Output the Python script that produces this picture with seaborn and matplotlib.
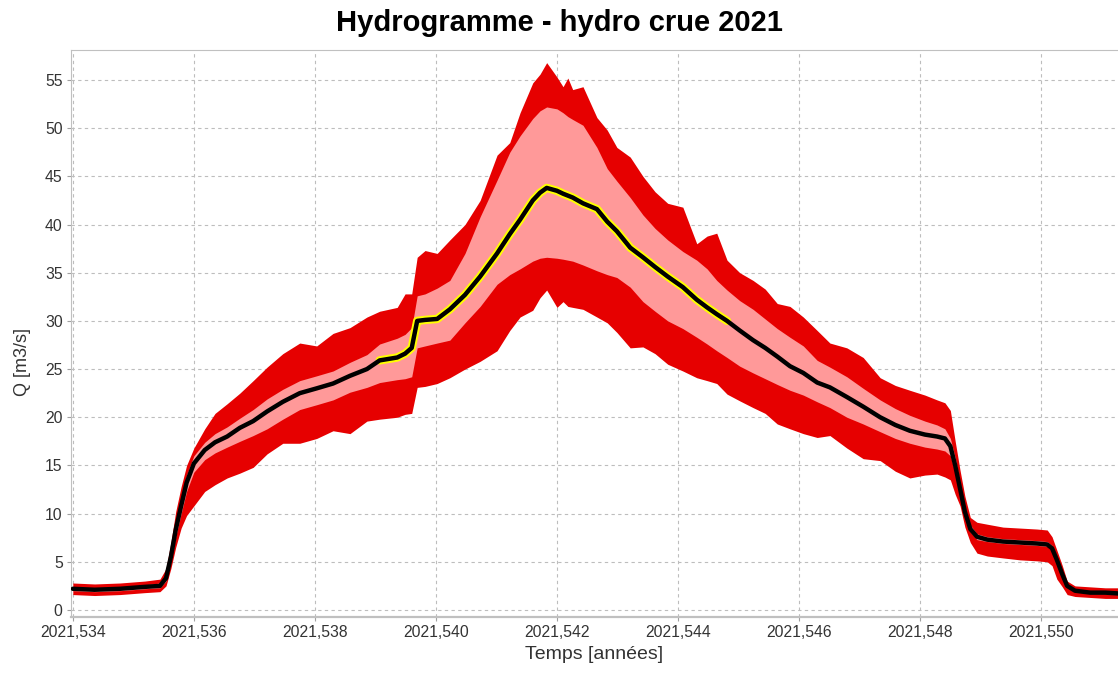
import pandas as pd
import numpy as np
import matplotlib
matplotlib.use("Agg")
import matplotlib.pyplot as plt
from matplotlib.ticker import FuncFormatter, MultipleLocator
import seaborn as sns

# time in years
temps = [2021.53400, 2021.53436, 2021.53478, 2021.53519, 2021.53544, 2021.53554, 2021.53562,
         2021.53570, 2021.53579, 2021.53588, 2021.53600, 2021.53618, 2021.53635, 2021.53655,
         2021.53676, 2021.53698, 2021.53721, 2021.53747, 2021.53775, 2021.53803, 2021.53830,
         2021.53858, 2021.53886, 2021.53907, 2021.53936, 2021.53949, 2021.53960, 2021.53969,
         2021.53982, 2021.54002, 2021.54023, 2021.54048, 2021.54073, 2021.54101, 2021.54122,
         2021.54139, 2021.54160, 2021.54172, 2021.54183, 2021.54200, 2021.54210, 2021.54218,
         2021.54226, 2021.54243, 2021.54266, 2021.54283, 2021.54299, 2021.54321, 2021.54342,
         2021.54362, 2021.54383, 2021.54408, 2021.54431, 2021.54448, 2021.54464, 2021.54481,
         2021.54502, 2021.54524, 2021.54544, 2021.54564, 2021.54585, 2021.54607, 2021.54630,
         2021.54651, 2021.54679, 2021.54706, 2021.54734, 2021.54759, 2021.54783, 2021.54808,
         2021.54828, 2021.54841, 2021.54850, 2021.54858, 2021.54866, 2021.54874, 2021.54883,
         2021.54894, 2021.54911, 2021.54937, 2021.54965, 2021.54993, 2021.55010, 2021.55018,
         2021.55026, 2021.55035, 2021.55043, 2021.55056, 2021.55081, 2021.55106, 2021.55131]

# median discharge (black)
q_med = [2.2, 2.1, 2.2, 2.4, 2.5, 3.3, 5.5, 8.3, 10.8, 13.2, 15.2, 16.6, 17.4, 18.0,
         18.9, 19.6, 20.6, 21.6, 22.5, 23.0, 23.5, 24.3, 25.0, 25.9, 26.2, 26.6, 27.2, 30.0,
         30.1, 30.2, 31.2, 32.7, 34.6, 37.0, 39.0, 40.5, 42.5, 43.3, 43.8, 43.5, 43.2, 43.0,
         42.8, 42.2, 41.6, 40.3, 39.3, 37.6, 36.6, 35.6, 34.6, 33.5, 32.2, 31.4, 30.7, 30.0,
         29.0, 28.0, 27.2, 26.3, 25.3, 24.6, 23.6, 23.1, 22.1, 21.1, 20.0, 19.2, 18.6, 18.2,
         18.0, 17.8, 17.0, 15.0, 12.6, 10.2, 8.4, 7.6, 7.3, 7.1, 7.0, 6.9, 6.8, 6.4,
         5.2, 3.7, 2.5, 2.0, 1.8, 1.8, 1.7]

# inner band (pink)
q_in_lo = [2.0, 1.9, 2.0, 2.2, 2.3, 3.0, 5.0, 7.6, 10.0, 12.3, 14.3, 15.6, 16.3, 16.9,
           17.5, 18.1, 18.8, 19.8, 20.8, 21.3, 21.8, 22.6, 23.1, 23.6, 23.9, 24.0, 24.2, 27.2,
           27.4, 27.7, 28.0, 29.8, 31.5, 33.8, 34.8, 35.4, 36.2, 36.5, 36.6, 36.5, 36.4, 36.3,
           36.2, 35.8, 35.2, 34.8, 34.5, 33.5, 32.0, 31.0, 30.0, 29.2, 28.3, 27.6, 26.9, 26.2,
           25.3, 24.6, 24.0, 23.4, 22.8, 22.3, 21.6, 21.0, 20.0, 19.3, 18.5, 17.8, 17.3, 16.9,
           16.7, 16.5, 16.0, 14.2, 12.0, 9.8, 8.1, 7.3, 7.1, 6.9, 6.8, 6.7, 6.6, 6.2,
           5.0, 3.5, 2.4, 1.9, 1.7, 1.7, 1.6]
q_in_hi = [2.4, 2.3, 2.4, 2.6, 2.8, 3.6, 6.0, 9.0, 11.6, 14.0, 16.0, 17.4, 18.3, 19.0,
           19.9, 20.8, 21.9, 22.9, 23.8, 24.3, 24.8, 25.7, 26.5, 27.6, 28.2, 28.6, 29.3, 32.6,
           32.8, 33.4, 34.2, 37.0, 40.8, 44.6, 47.5, 49.2, 51.0, 51.8, 52.2, 52.0, 51.6, 51.2,
           50.9, 50.3, 48.0, 45.8, 44.5, 42.8, 41.0, 39.6, 38.4, 37.2, 36.3, 35.4, 34.2, 33.2,
           32.1, 31.2, 30.2, 29.2, 28.3, 27.4, 25.9, 25.2, 24.2, 23.0, 21.8, 20.9, 20.2, 19.6,
           19.2, 18.8, 17.8, 15.8, 13.2, 10.7, 8.8, 7.9, 7.6, 7.4, 7.3, 7.2, 7.1, 6.7,
           5.5, 3.9, 2.7, 2.2, 2.0, 1.9, 1.9]

# outer band (red)
q_out_lo = [1.6, 1.5, 1.6, 1.8, 1.9, 2.5, 4.3, 6.5, 8.5, 9.8, 10.8, 12.3, 13.0, 13.7,
            14.2, 14.8, 16.2, 17.3, 17.3, 17.8, 18.6, 18.3, 19.6, 19.8, 20.0, 20.3, 20.4, 23.1,
            23.2, 23.5, 24.1, 25.0, 25.8, 26.9, 29.0, 30.4, 31.1, 32.4, 33.2, 31.4, 32.0, 31.5,
            31.4, 31.2, 30.4, 29.8, 28.8, 27.2, 27.3, 26.6, 25.5, 24.8, 24.1, 23.8, 23.5, 22.4,
            21.7, 21.0, 20.4, 19.3, 18.8, 18.3, 17.9, 18.1, 16.8, 15.7, 15.5, 14.4, 13.7, 14.0,
            14.1, 13.8, 13.5, 12.0, 10.8, 8.6, 7.0, 5.9, 5.6, 5.4, 5.2, 5.1, 5.0, 4.6,
            3.2, 2.4, 1.6, 1.4, 1.3, 1.2, 1.2]
q_out_hi = [2.8, 2.7, 2.8, 3.0, 3.2, 4.3, 7.0, 10.2, 12.8, 15.0, 16.8, 18.8, 20.4, 21.4,
            22.5, 23.8, 25.2, 26.6, 27.7, 27.4, 28.7, 29.3, 30.4, 31.0, 31.4, 32.8, 32.8, 36.6,
            37.3, 37.0, 38.4, 40.0, 42.5, 47.2, 48.5, 51.6, 54.7, 55.6, 56.8, 55.3, 54.3, 55.2,
            54.0, 54.3, 51.1, 49.8, 48.0, 47.0, 45.0, 43.4, 42.2, 41.8, 38.0, 38.8, 39.1, 36.3,
            35.0, 34.2, 33.3, 31.8, 31.5, 30.4, 29.0, 27.7, 27.2, 26.2, 24.1, 23.3, 22.8, 22.3,
            21.8, 21.5, 20.7, 17.5, 14.5, 11.8, 9.6, 9.1, 8.9, 8.6, 8.5, 8.4, 8.3, 7.6,
            6.2, 4.6, 3.0, 2.5, 2.4, 2.3, 2.3]

df = pd.DataFrame({"temps": temps, "med": q_med, "in_lo": q_in_lo, "in_hi": q_in_hi,
                   "out_lo": q_out_lo, "out_hi": q_out_hi})
# yellow curve visible only around the peak
mid = df[(df["temps"] >= 2021.53900) & (df["temps"] <= 2021.54500)]

sns.set_style("white")
plt.rcParams["font.family"] = ["Liberation Sans", "DejaVu Sans"]

fig = plt.figure(figsize=(11.18, 6.77), dpi=100)
ax = fig.add_axes([0.0635, 0.0886, 0.9365, 0.8374])

ax.fill_between(df["temps"], df["out_lo"], df["out_hi"], color="#e60000", lw=0, zorder=2)
ax.fill_between(df["temps"], df["in_lo"], df["in_hi"], color="#ff9999", lw=0, zorder=3)
sns.lineplot(data=mid, x="temps", y="med", color="#ffff00", lw=6, ax=ax, zorder=4)
sns.lineplot(data=df, x="temps", y="med", color="black", lw=3.2, ax=ax, zorder=5)

ax.set_xlim(2021.53397, 2021.55127)
ax.set_ylim(-0.73, 58.1)
ax.xaxis.set_major_locator(MultipleLocator(0.002))
ax.yaxis.set_major_locator(MultipleLocator(5))
ax.xaxis.set_major_formatter(FuncFormatter(lambda v, p: f"{v:.3f}".replace(".", ",")))
ax.yaxis.set_major_formatter(FuncFormatter(lambda v, p: f"{v:.0f}"))

ax.grid(True, color="#bdbdbd", linestyle=(0, (3, 3)), lw=0.8, zorder=1)
ax.set_axisbelow(True)
for side in ["left", "top", "bottom"]:
    ax.spines[side].set_color("#c0c0c0")
ax.spines["right"].set_visible(False)
ax.spines["bottom"].set_linewidth(1.6)
ax.tick_params(axis="both", direction="out", length=3, color="#a0a0a0", bottom=True, left=True,
               labelsize=11.3, labelcolor="#333333", pad=3)

ax.set_xlabel("Temps [années]", fontsize=14, color="#333333", labelpad=4)
ax.set_ylabel("Q [m3/s]", fontsize=13, color="#333333")
ax.yaxis.set_label_coords(-0.038, 0.45)
fig.suptitle("Hydrogramme - hydro crue 2021", fontsize=21, fontweight="bold", color="black", y=0.986)

fig.savefig("out.png", dpi=100)
